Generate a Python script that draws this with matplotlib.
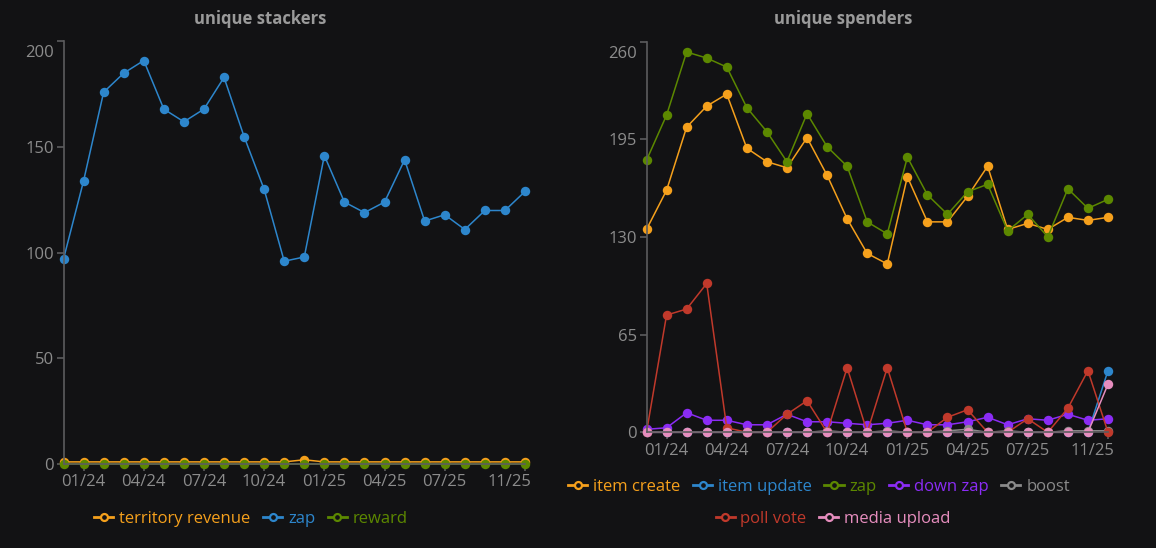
import matplotlib.pyplot as plt
from matplotlib.lines import Line2D
import matplotlib.transforms as mtransforms

# Data
months = ['12/23', '01/24', '02/24', '03/24', '04/24', '05/24', '06/24', '07/24',
          '08/24', '09/24', '10/24', '11/24', '12/24', '01/25', '02/25', '03/25',
          '04/25', '05/25', '06/25', '07/25', '08/25', '09/25', '10/25', '11/25']

# unique stackers
territory_revenue = [1, 1, 1, 1, 1, 1, 1, 1, 1, 1, 1, 1, 2, 1, 1, 1, 1, 1, 1, 1, 1, 1, 1, 1]
stack_zap = [97, 134, 176, 185, 191, 168, 162, 168, 183, 155, 130, 96,
             98, 146, 124, 119, 124, 144, 115, 118, 111, 120, 120, 129]
reward = [0] * 24

# unique spenders
item_create = [135, 161, 203, 217, 225, 189, 180, 176, 196, 171, 142, 119,
               112, 170, 140, 140, 157, 177, 135, 139, 135, 143, 141, 143]
item_update = [0, 0, 0, 0, 0, 0, 0, 0, 0, 0, 0, 0, 0, 0, 0, 0, 0, 0, 0, 0, 0, 0, 0, 41]
spend_zap = [181, 211, 253, 249, 243, 216, 200, 180, 212, 190, 177, 140,
             132, 183, 158, 145, 160, 165, 134, 145, 130, 162, 149, 155]
down_zap = [2, 3, 13, 8, 8, 5, 5, 12, 7, 7, 6, 5, 6, 8, 5, 5, 7, 10, 5, 9, 8, 12, 8, 9]
boost = [0, 0, 0, 0, 0, 0, 0, 0, 0, 1, 0, 0, 1, 0, 0, 1, 2, 0, 1, 0, 0, 1, 1, 1]
poll_vote = [0, 78, 82, 99, 3, 0, 0, 12, 21, 0, 43, 0, 43, 0, 0, 10, 15, 0, 0, 9, 0, 16, 41, 0]
media_upload = [0] * 23 + [32]

tick_idx = [1, 4, 7, 10, 13, 16, 19, 23]

BG = '#121214'
TXT = '#8c8c8c'
AXC = '#5c5c5e'
ORANGE = '#f5a01c'
BLUE = '#2d86cc'
GREEN = '#5c8800'
PURPLE = '#8b2cf5'
GRAY = '#8a8a8a'
RED = '#c0392b'
PINK = '#e68dbe'

plt.rcParams['font.family'] = ['Open Sans', 'DejaVu Sans']

fig = plt.figure(figsize=(11.56, 5.48), dpi=100, facecolor=BG)
W, H = 1156, 548


def make_axes(x0, x1, ytop, ybot):
    ax = fig.add_axes([x0 / W, 1 - ybot / H, (x1 - x0) / W, (ybot - ytop) / H])
    ax.set_facecolor(BG)
    for s in ['top', 'right']:
        ax.spines[s].set_visible(False)
    for s in ['left', 'bottom']:
        ax.spines[s].set_color(AXC)
        ax.spines[s].set_linewidth(1.2)
    ax.tick_params(colors=AXC, labelcolor=TXT, labelsize=12, length=5, width=1.2)
    ax.tick_params(axis='y', pad=2)
    ax.tick_params(axis='x', pad=2.5)
    return ax


def finish_axes(ax, yticks):
    ax.set_xlim(0, len(months) - 1)
    ax.set_ylim(yticks[0], yticks[-1])
    ax.set_yticks(yticks)
    ax.set_xticks(tick_idx)
    ax.set_xticklabels([months[i] for i in tick_idx])
    # last x label pushed inside, top y label pushed down
    lab = ax.get_xticklabels()[-1]
    lab.set_ha('right')
    lab.set_transform(lab.get_transform() + mtransforms.ScaledTranslation(6 / 100, 0, fig.dpi_scale_trans))
    ylab = ax.get_yticklabels()[-1]
    ylab.set_transform(ylab.get_transform() + mtransforms.ScaledTranslation(0, -10 / 100, fig.dpi_scale_trans))


def series(ax, y, color):
    ax.plot(range(len(y)), y, color=color, lw=1.1, marker='o', markersize=6.8,
            markeredgewidth=0, clip_on=False)


def legend_handles(colors):
    return [Line2D([], [], color=c, lw=2, marker='o', markersize=5,
                   markerfacecolor=BG, markeredgecolor=c, markeredgewidth=1.6)
            for c in colors]


def add_legend(names, colors, cx, cy):
    leg = fig.legend(legend_handles(colors), names, loc='center',
                     bbox_to_anchor=(cx / W, 1 - cy / H), ncol=len(names),
                     frameon=False, fontsize=12, handlelength=1.15,
                     handletextpad=0.35, columnspacing=0.75, borderpad=0)
    for t, c in zip(leg.get_texts(), colors):
        t.set_color(c)
    return leg


# Left: unique stackers
ax1 = make_axes(63.5, 525, 41.5, 464)
series(ax1, territory_revenue, ORANGE)
series(ax1, stack_zap, BLUE)
series(ax1, reward, GREEN)
finish_axes(ax1, [0, 50, 100, 150, 200])
fig.text(260 / W, 1 - 19 / H, 'unique stackers', ha='center', va='center',
         color='#9a9a9a', fontsize=12, fontweight='bold')
add_legend(['territory revenue', 'zap', 'reward'], [ORANGE, BLUE, GREEN], 251, 519)

# Right: unique spenders
ax2 = make_axes(646.5, 1108, 41.5, 432.3)
series(ax2, item_create, ORANGE)
series(ax2, item_update, BLUE)
series(ax2, spend_zap, GREEN)
series(ax2, down_zap, PURPLE)
series(ax2, boost, GRAY)
series(ax2, poll_vote, RED)
series(ax2, media_upload, PINK)
finish_axes(ax2, [0, 65, 130, 195, 260])
fig.text(843 / W, 1 - 19 / H, 'unique spenders', ha='center', va='center',
         color='#9a9a9a', fontsize=12, fontweight='bold')
add_legend(['item create', 'item update', 'zap', 'down zap', 'boost'],
           [ORANGE, BLUE, GREEN, PURPLE, GRAY], 819, 487)
add_legend(['poll vote', 'media upload'], [RED, PINK], 833, 519)

fig.savefig('out.png', dpi=100, facecolor=BG)
